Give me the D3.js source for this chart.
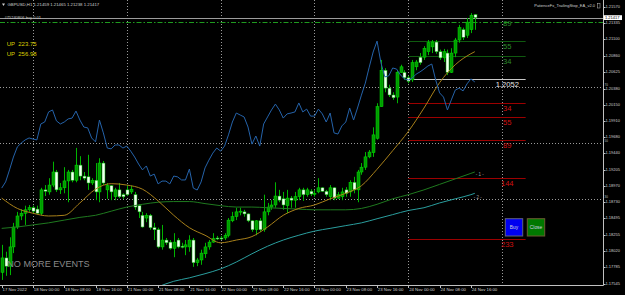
<html>
<head>
<script type="text/javascript" src="https://cdn.jsdelivr.net/npm/d3@7/dist/d3.min.js"></script>
<style>
  body { margin: 0; background: #000; }
  svg text { font-family: "Liberation Sans", Arial, sans-serif; }
</style>
</head>
<body>
<script type="text/javascript">

// GBPUSD H1 bars, 17 Nov 2022 16:00 .. 24 Nov 2022 17:00
var opens = [1.1771,1.1792,1.1780,1.1808,1.1837,1.1853,1.1857,1.1862,1.1865,1.1863,
  1.1857,1.1891,1.1888,1.1898,1.1917,1.1891,1.1894,1.1904,1.1917,1.1905,
  1.1927,1.1911,1.1910,1.1901,1.1905,1.1888,1.1930,1.1891,1.1897,1.1881,
  1.1891,1.1884,1.1891,1.1888,1.1884,1.1868,1.1854,1.1850,1.1854,1.1836,
  1.1833,1.1808,1.1818,1.1815,1.1806,1.1818,1.1809,1.1808,1.1808,1.1818,
  1.1785,1.1789,1.1798,1.1808,1.1815,1.1821,1.1821,1.1821,1.1825,1.1846,
  1.1852,1.1859,1.1859,1.1856,1.1846,1.1833,1.1846,1.1833,1.1859,1.1866,
  1.1869,1.1882,1.1878,1.1868,1.1879,1.1876,1.1881,1.1891,1.1884,1.1889,
  1.1885,1.1888,1.1894,1.1889,1.1881,1.1894,1.1879,1.1881,1.1891,1.1888,
  1.1902,1.1891,1.1917,1.1924,1.1939,1.1945,1.1966,1.2012,1.2065,1.2039,
  1.2029,1.2026,1.2062,1.2062,1.2054,1.2051,1.2070,1.2084,1.2084,1.2092,
  1.2099,1.2106,1.2092,1.2083,1.2090,1.2062,1.2090,1.2109,1.2124,1.2116,
  1.2124,1.21459];
var highs = [1.1811,1.1801,1.1822,1.1843,1.1859,1.1863,1.1868,1.1869,1.1868,1.1868,
  1.1894,1.1898,1.1908,1.1932,1.1920,1.1901,1.1924,1.1920,1.1920,1.1952,
  1.1940,1.1917,1.1942,1.1908,1.1930,1.1937,1.1933,1.1901,1.1898,1.1894,
  1.1901,1.1886,1.1898,1.1897,1.1888,1.1870,1.1859,1.1857,1.1856,1.1843,
  1.1836,1.1840,1.1821,1.1818,1.1828,1.1821,1.1814,1.1818,1.1825,1.1821,
  1.1792,1.1804,1.1814,1.1818,1.1828,1.1824,1.1824,1.1828,1.1850,1.1859,
  1.1865,1.1865,1.1862,1.1857,1.1847,1.1847,1.1850,1.1884,1.1872,1.1876,
  1.1902,1.1891,1.1888,1.1891,1.1882,1.1888,1.1894,1.1894,1.1894,1.1892,
  1.1891,1.1908,1.1895,1.1891,1.1898,1.1895,1.1888,1.1894,1.1895,1.1905,
  1.1910,1.1920,1.1930,1.1946,1.1949,1.1982,1.2017,1.2080,1.2068,1.2044,
  1.2033,1.2065,1.2073,1.2065,1.2057,1.2080,1.2080,1.2090,1.2100,1.2109,
  1.2109,1.2109,1.2095,1.2096,1.2095,1.2097,1.2112,1.2131,1.2127,1.2141,
  1.2148,1.21465];
var lows = [1.1760,1.1766,1.1767,1.1799,1.1834,1.1847,1.1840,1.1859,1.1857,1.1856,
  1.1854,1.1882,1.1884,1.1895,1.1888,1.1885,1.1886,1.1873,1.1902,1.1902,
  1.1905,1.1905,1.1891,1.1898,1.1876,1.1873,1.1898,1.1878,1.1876,1.1876,
  1.1879,1.1878,1.1882,1.1885,1.1862,1.1850,1.1836,1.1844,1.1833,1.1818,
  1.1806,1.1804,1.1811,1.1804,1.1793,1.1806,1.1806,1.1796,1.1801,1.1779,
  1.1780,1.1782,1.1792,1.1804,1.1814,1.1818,1.1818,1.1818,1.1822,1.1844,
  1.1847,1.1854,1.1852,1.1844,1.1830,1.1825,1.1830,1.1830,1.1854,1.1862,
  1.1865,1.1873,1.1862,1.1857,1.1865,1.1865,1.1876,1.1875,1.1881,1.1882,
  1.1881,1.1886,1.1888,1.1881,1.1876,1.1876,1.1878,1.1876,1.1881,1.1881,
  1.1886,1.1873,1.1913,1.1920,1.1937,1.1939,1.1964,1.2012,1.2033,1.2026,
  1.2022,1.2017,1.2061,1.2051,1.2046,1.2048,1.2065,1.2073,1.2080,1.2087,
  1.2090,1.2089,1.2080,1.2077,1.2058,1.2061,1.2084,1.2105,1.2109,1.2112,
  1.2119,1.21238];
var closes = [1.1792,1.1780,1.1808,1.1837,1.1853,1.1857,1.1862,1.1865,1.1860,1.1857,
  1.1891,1.1889,1.1898,1.1917,1.1891,1.1894,1.1904,1.1917,1.1905,1.1927,
  1.1911,1.1908,1.1901,1.1905,1.1888,1.1930,1.1901,1.1897,1.1888,1.1891,
  1.1881,1.1881,1.1884,1.1892,1.1866,1.1859,1.1837,1.1854,1.1836,1.1833,
  1.1808,1.1818,1.1814,1.1806,1.1815,1.1808,1.1808,1.1811,1.1818,1.1785,
  1.1789,1.1799,1.1808,1.1815,1.1820,1.1820,1.1820,1.1825,1.1847,1.1852,
  1.1859,1.1860,1.1856,1.1846,1.1833,1.1846,1.1833,1.1859,1.1866,1.1869,
  1.1882,1.1876,1.1869,1.1879,1.1876,1.1881,1.1891,1.1884,1.1891,1.1885,
  1.1886,1.1894,1.1889,1.1884,1.1894,1.1879,1.1884,1.1888,1.1886,1.1902,
  1.1891,1.1917,1.1924,1.1939,1.1946,1.1971,1.2012,1.2065,1.2039,1.2029,
  1.2025,1.2062,1.2070,1.2054,1.2049,1.2076,1.2077,1.2076,1.2097,1.2105,
  1.2106,1.2092,1.2083,1.2092,1.2062,1.2090,1.2109,1.2127,1.2113,1.2135,
  1.2145,1.21417];

// oscillator drawn on the price window (blue), one value per bar
var oscValues = [33.9,36.1,40.4,45.0,48.6,50.0,51.1,51.8,51.4,51.1,
  56.8,57.5,61.1,61.8,57.9,56.8,57.5,58.6,58.9,61.4,
  58.2,55.7,55.4,51.8,50.4,58.2,53.6,48.2,47.9,49.3,
  49.3,48.2,48.9,47.1,45.0,42.5,40.4,41.8,38.2,38.9,
  35.4,36.4,36.4,35.4,38.2,37.9,36.8,36.8,40.7,33.9,
  33.2,36.1,41.1,43.9,46.4,48.2,47.1,48.9,52.9,57.5,
  60.7,60.0,59.3,55.7,49.6,52.5,48.9,56.8,59.3,61.8,
  63.9,61.8,58.9,60.4,60.7,61.1,64.3,61.1,62.1,59.6,
  59.6,62.1,60.4,57.5,60.7,53.6,53.2,56.1,57.5,62.5,
  58.2,62.5,67.1,71.4,77.1,82.5,86.4,78.6,73.6,74.0,
  76.8,76.4,74.3,72.9,72.5,73.2,74.6,75.4,76.4,77.5,
  78.2,72.5,67.9,66.4,61.8,65.4,68.9,69.6,68.6,71.1,
  72.9,71.8];
var oscLevels = [70, 50, 30];

// moving averages read every 4 bars
var maBars = [0,4,8,12,16,20,24,28,32,36,40,44,48,52,56,60,64,68,72,76,80,84,88,92,96,100,104,108,112,116,120,121];
var maOrange = [1.1879,1.1864,1.1857,1.1853,1.1854,1.1872,1.1892,1.1900,1.1898,1.1892,
  1.1875,1.1854,1.1836,1.1825,1.1814,1.1818,1.1823,1.1837,1.1854,1.1864,
  1.1869,1.1878,1.1886,1.1897,1.1921,1.1948,1.1976,1.2010,1.2047,1.2073,1.2089,1.2092];
var maGreen = [1.1835,1.1837,1.1840,1.1843,1.1847,1.1851,1.1854,1.1860,1.1866,1.1870,
  1.1873,1.1874,1.1874,1.1871,1.1868,1.1866,1.1866,1.1865,1.1864,1.1863,
  1.1862,1.1862,1.1862,1.1864,1.1870,1.1878,1.1884,1.1891,1.1899,1.1907,1.1915,1.1917];
var tealBars = [40,44,48,52,56,60,64,68,72,76,80,84,88,92,96,100,104,108,112,116,120,121];
var maTeal = [1.1750,1.1758,1.1763,1.1769,1.1776,1.1786,1.1798,1.1809,1.1818,1.1825,
  1.1831,1.1835,1.1839,1.1843,1.1849,1.1855,1.1861,1.1865,1.1872,1.1878,1.1884,1.1886];

// axis labels
var priceTicks = [1.21570,1.21335,1.21100,1.20860,1.20625,1.20380,1.20150,1.19910,1.19680,
  1.19440,1.19205,1.18970,1.18730,1.18495,1.18255,1.18020,1.17785,1.17545];
var timeBars = [0,8,16,24,32,40,48,56,64,72,80,88,96,104,112,120];
var timeLabels = ["17 Nov 2022","18 Nov 00:00","18 Nov 08:00","18 Nov 16:00","21 Nov 00:00",
  "21 Nov 08:00","21 Nov 16:00","22 Nov 00:00","22 Nov 08:00","22 Nov 16:00","23 Nov 00:00",
  "23 Nov 08:00","23 Nov 16:00","24 Nov 00:00","24 Nov 08:00","24 Nov 16:00"];
var gridBars = [8,32,56,80,104,128];

// EA objects
var fibBase = 1.2052;
var fibUp = [34,55,89];
var fibDown = [34,55,89,144,233];
var fibStartBar = 104, fibEndBar = 134;
var orderPrice = 1.2135;
var orderText = "#75240806 buy 0.01";
var upTexts = ["UP  223.75", "UP  256.98"];

var W = 625, H = 295, plotW = 603, plotH = 285;

var xScale = d3.scaleLinear().domain([0, 121]).range([1.7, 474.8]);
var yScale = d3.scaleLinear().domain([1.17545, 1.21570]).range([283.7, 7]);
var oscScale = d3.scaleLinear().domain([30, 70]).range([199, 87]);

function px(v){ return Math.round(v) + 0.5; }

var svg = d3.select("body").append("svg")
  .attr("width", W).attr("height", H)
  .style("display", "block").style("background", "#000");

svg.append("clipPath").attr("id", "plot")
  .append("rect").attr("x", 0).attr("y", 0).attr("width", plotW).attr("height", plotH);

var plot = svg.append("g").attr("clip-path", "url(#plot)");

// dotted grid
plot.selectAll("line.vgrid").data(gridBars).enter().append("line")
  .attr("x1", function(d){ return px(xScale(d)); }).attr("x2", function(d){ return px(xScale(d)); })
  .attr("y1", 0).attr("y2", plotH)
  .attr("stroke", "#9a9a9a").attr("stroke-dasharray", "1,2");
plot.selectAll("line.hgrid").data(oscLevels).enter().append("line")
  .attr("x1", 0).attr("x2", plotW)
  .attr("y1", function(d){ return px(oscScale(d)); }).attr("y2", function(d){ return px(oscScale(d)); })
  .attr("stroke", "#9a9a9a").attr("stroke-dasharray", "1,2");

// fib style levels from the EA
function drawLevel(price, lineColor, label, labelColor){
  var y = px(yScale(price));
  plot.append("line")
    .attr("x1", xScale(fibStartBar)).attr("x2", xScale(fibEndBar))
    .attr("y1", y).attr("y2", y).attr("stroke", lineColor).attr("stroke-width", 1);
  plot.append("text").attr("x", xScale(129.3)).attr("y", y + 1.5)
    .attr("text-anchor", "middle").attr("dominant-baseline", "hanging")
    .attr("font-size", 7.6).attr("fill", labelColor).text(label);
}
fibUp.forEach(function(n){ drawLevel(fibBase + n * 0.0001, "#0f5a0f", n, "#2c8c2c"); });
fibDown.forEach(function(n){ drawLevel(fibBase - n * 0.0001, "#9c0000", n, "#d01010"); });
drawLevel(fibBase, "#c8c8c8", d3.format(".4f")(fibBase), "#e6e6e6");

// bid line and order line
var bid = closes[closes.length - 1];
plot.append("line").attr("x1", 0).attr("x2", plotW)
  .attr("y1", px(yScale(bid))).attr("y2", px(yScale(bid))).attr("stroke", "#9c9c9c");
plot.append("line").attr("x1", 0).attr("x2", plotW)
  .attr("y1", px(yScale(orderPrice))).attr("y2", px(yScale(orderPrice)))
  .attr("stroke", "#1f9a1f").attr("stroke-dasharray", "5,2,1.5,2");

// candles
var bars = d3.range(opens.length);
var candle = plot.selectAll("g.candle").data(bars).enter().append("g");
candle.append("line")
  .attr("x1", function(i){ return px(xScale(i)); }).attr("x2", function(i){ return px(xScale(i)); })
  .attr("y1", function(i){ return yScale(highs[i]); }).attr("y2", function(i){ return yScale(lows[i]); })
  .attr("stroke", "#00b400").attr("stroke-width", 1);
candle.append("rect")
  .attr("x", function(i){ return Math.round(xScale(i)) - 1; })
  .attr("width", 3)
  .attr("y", function(i){ return yScale(Math.max(opens[i], closes[i])); })
  .attr("height", function(i){ return Math.max(1, Math.abs(yScale(opens[i]) - yScale(closes[i]))); })
  .attr("fill", function(i){ return closes[i] >= opens[i] ? "#009a00" : "#f4fff4"; })
  .attr("stroke", function(i){ return closes[i] >= opens[i] ? "#00e000" : "#00b400"; })
  .attr("stroke-width", 0.5);

// moving averages
var maLine = d3.line().curve(d3.curveMonotoneX)
  .x(function(d){ return xScale(d[0]); }).y(function(d){ return yScale(d[1]); });
plot.append("path").datum(d3.zip(tealBars, maTeal)).attr("d", maLine)
  .attr("fill", "none").attr("stroke", "#2a9e9e").attr("stroke-width", 1);
plot.append("path").datum(d3.zip(maBars, maGreen)).attr("d", maLine)
  .attr("fill", "none").attr("stroke", "#1f7a1f").attr("stroke-width", 1);
plot.append("path").datum(d3.zip(maBars, maOrange)).attr("d", maLine)
  .attr("fill", "none").attr("stroke", "#a8801a").attr("stroke-width", 1);

// oscillator
var oscLine = d3.line()
  .x(function(d, i){ return xScale(i); }).y(function(d){ return oscScale(d); });
plot.append("path").datum(oscValues).attr("d", oscLine)
  .attr("fill", "none").attr("stroke", "#2563aa").attr("stroke-width", 1);

// ma tags
plot.append("text").attr("x", xScale(121) + 1).attr("y", yScale(maGreen[maGreen.length - 1]) + 3)
  .attr("font-size", 4.5).attr("fill", "#a0a0a0").attr("dominant-baseline", "middle").text("- 1 -");
plot.append("text").attr("x", xScale(121) - 1).attr("y", yScale(maTeal[maTeal.length - 1]) + 4.5)
  .attr("font-size", 4.5).attr("fill", "#a0a0a0").attr("dominant-baseline", "middle").text("- 2 -");

// buttons
var buttons = [{label: "Buy", x: 505.3, fill: "#0000f0", stroke: "#606080"},
               {label: "Close", x: 527.3, fill: "#007800", stroke: "#6a5a30"}];
var btn = plot.selectAll("g.btn").data(buttons).enter().append("g");
btn.append("rect").attr("x", function(d){ return d.x; }).attr("y", 218.7)
  .attr("width", 17.4).attr("height", 17.3)
  .attr("fill", function(d){ return d.fill; }).attr("stroke", function(d){ return d.stroke; });
btn.append("text").attr("x", function(d){ return d.x + 8.7; }).attr("y", 227.5)
  .attr("text-anchor", "middle").attr("dominant-baseline", "middle")
  .attr("font-size", 4.8).attr("fill", "#d0d0e0").text(function(d){ return d.label; });

// texts on the chart
var f5 = d3.format(".5f");
svg.append("path").attr("d", "M2,3.5 L5,3.5 L3.5,6 Z").attr("fill", "#d0d0d0");
svg.append("text").attr("x", 7.5).attr("y", 5).attr("dominant-baseline", "middle")
  .attr("font-size", 4.3).attr("fill", "#d0d0d0")
  .text("GBPUSD,H1  " + [opens[121], highs[121], lows[121], closes[121]].map(f5).join(" "));
svg.append("text").attr("x", 4.5).attr("y", 18.3).attr("dominant-baseline", "middle")
  .attr("font-size", 4).attr("fill", "#c8c8c8").text(orderText);
svg.selectAll("text.up").data(upTexts).enter().append("text")
  .attr("x", 6.7).attr("y", function(d, i){ return 44.3 + i * 10; })
  .attr("dominant-baseline", "middle").attr("font-size", 6).attr("fill", "#dccf00")
  .attr("xml:space", "preserve").style("white-space", "pre").text(function(d){ return d; });
svg.append("text").attr("x", 595).attr("y", 5.7).attr("text-anchor", "end")
  .attr("dominant-baseline", "middle").attr("font-size", 4).attr("fill", "#d0d0d0")
  .text("PatienceFx_TrailingStop_EA_v2.0");
svg.append("rect").attr("x", 597.5).attr("y", 3.5).attr("width", 2.5).attr("height", 4.5)
  .attr("fill", "none").attr("stroke", "#c0c0c0").attr("stroke-width", 0.5);
svg.append("text").attr("x", 7.3).attr("y", 264.5).attr("dominant-baseline", "middle")
  .attr("font-size", 9.1).attr("fill", "#8a8a8a").text("NO MORE EVENTS");

// axes
svg.append("line").attr("x1", 603.5).attr("x2", 603.5).attr("y1", 0).attr("y2", 285.5).attr("stroke", "#c0c0c0");
svg.append("line").attr("x1", 0).attr("x2", 603.5).attr("y1", 285.5).attr("y2", 285.5).attr("stroke", "#c0c0c0");

svg.selectAll("line.ptick").data(priceTicks).enter().append("line")
  .attr("x1", 603.5).attr("x2", 605.5)
  .attr("y1", function(d){ return px(yScale(d)); }).attr("y2", function(d){ return px(yScale(d)); })
  .attr("stroke", "#c0c0c0");
svg.selectAll("text.ptick").data(priceTicks).enter().append("text")
  .attr("x", 605.5).attr("y", function(d){ return yScale(d); })
  .attr("dominant-baseline", "middle").attr("font-size", 4).attr("fill", "#d0d0d0")
  .text(function(d){ return f5(d); });

// indicator level tags sit just above their dotted line
svg.selectAll("text.olev").data(oscLevels).enter().append("text")
  .attr("x", 604.5).attr("y", function(d){ return oscScale(d) - 2.2; })
  .attr("dominant-baseline", "middle").attr("font-size", 3).attr("fill", "#c0c0c0")
  .text(function(d){ return d; });

svg.append("rect").attr("x", 603.5).attr("y", yScale(bid) - 2.3).attr("width", 18.5).attr("height", 4.8)
  .attr("fill", "#ffffff");
svg.append("text").attr("x", 605).attr("y", yScale(bid) + 0.2).attr("dominant-baseline", "middle")
  .attr("font-size", 4).attr("fill", "#000").text(f5(bid));

svg.selectAll("line.ttick").data(timeBars).enter().append("line")
  .attr("x1", function(d){ return px(xScale(d)); }).attr("x2", function(d){ return px(xScale(d)); })
  .attr("y1", 285.5).attr("y2", 288).attr("stroke", "#c0c0c0");
svg.selectAll("text.ttick").data(timeBars).enter().append("text")
  .attr("x", function(d){ return xScale(d) + 0.8; }).attr("y", 289.5)
  .attr("dominant-baseline", "middle").attr("font-size", 4.3).attr("fill", "#d0d0d0")
  .text(function(d, i){ return timeLabels[i]; });

</script>
</body>
</html>
